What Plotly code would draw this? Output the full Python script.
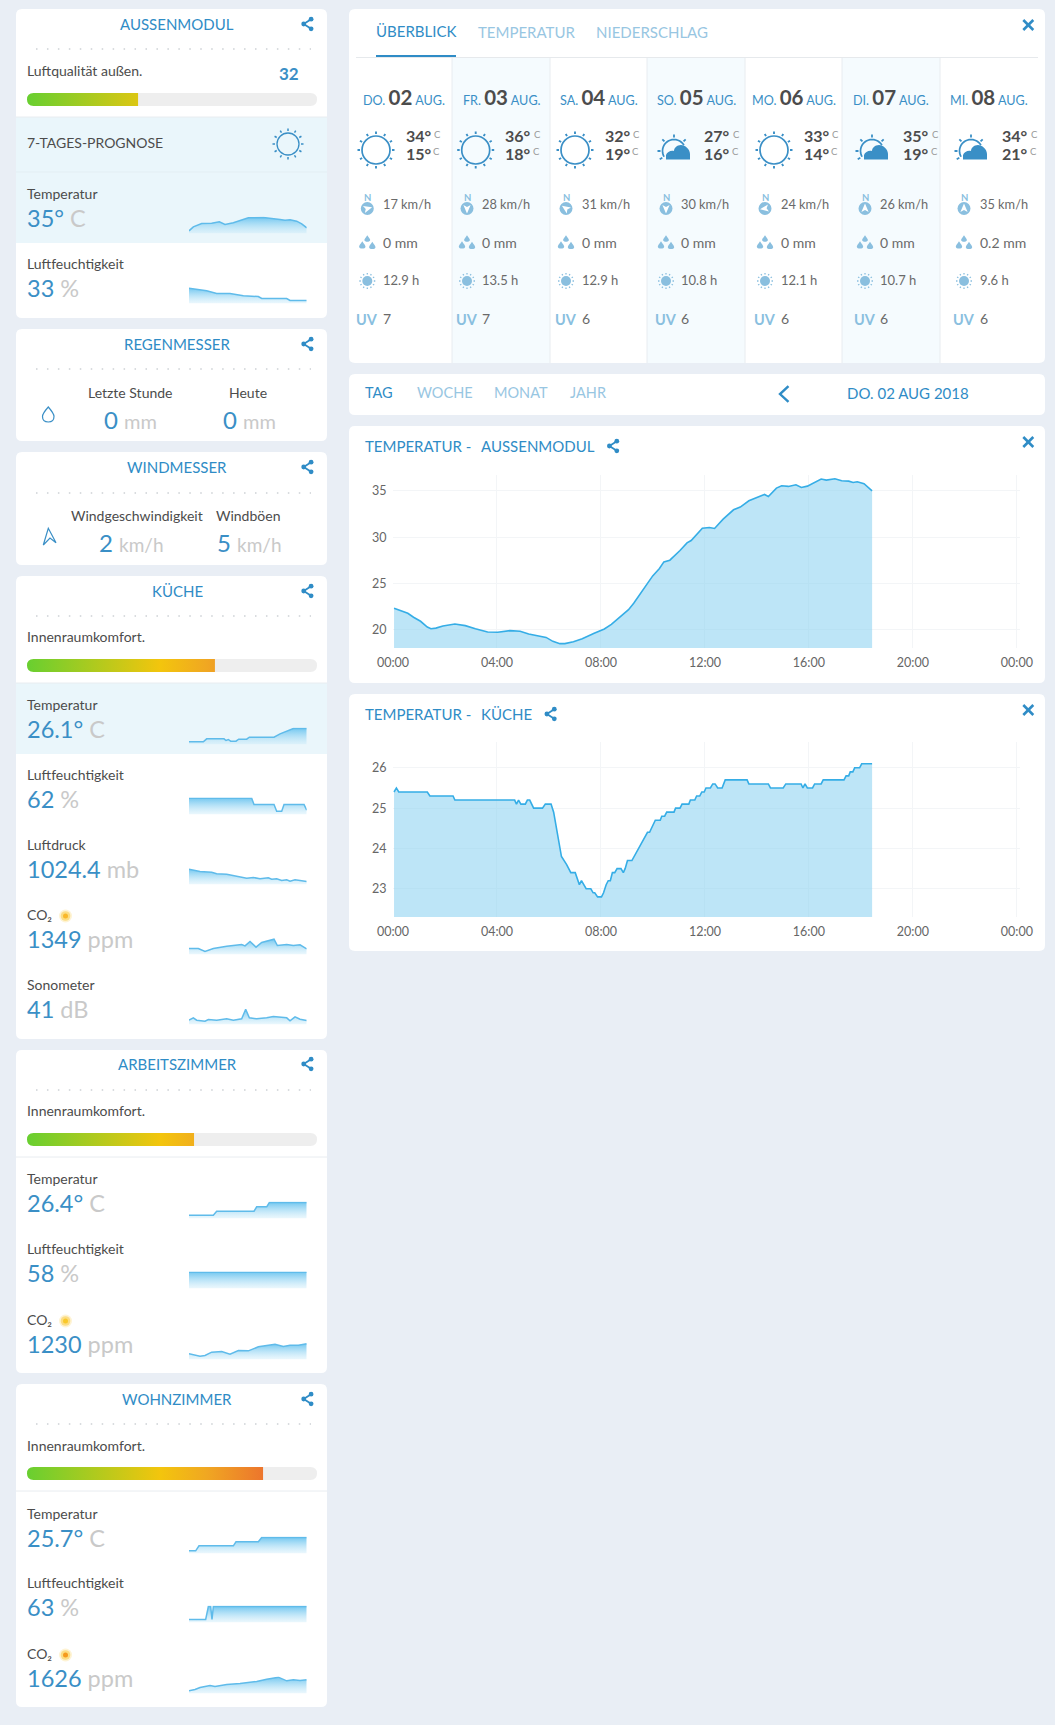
import math
import plotly.graph_objects as go

W, H = 1055, 1725
FONT = "Lato"

BG = "#e9eef5"
CARD = "#ffffff"
HILITE = "#eaf6fb"
ALT_COL = "#f5fbfe"
BLUE = "#3a8fc6"
BLUE_DARK = "#2f8cc6"
BLUE_SOFT = "#98c6e2"
ICON = "#8abfdf"
GREY = "#c9c9c9"
LABEL = "#4c4c4c"
TEXT = "#6a6a6a"
SEP = "#e8ecf0"

# =========================
# Main chart data
# =========================

hour_ticks = [0, 4, 8, 12, 16, 20, 24]
hour_labels = ["00:00", "04:00", "08:00", "12:00", "16:00", "20:00", "00:00"]

outdoor_hours = [
    0.04, 0.26, 0.57, 0.79, 1.06, 1.32, 1.46, 1.65, 1.92, 2.38, 2.78, 3.17, 3.64, 4.03, 4.5, 4.89,
    5.22, 5.89, 6.15, 6.42, 6.61, 6.94, 7.28, 7.74, 8.13, 8.4, 8.73, 9.06, 9.26, 9.46, 9.72, 9.99,
    10.25, 10.42, 10.65, 11.04, 11.31, 11.47, 11.9, 12.17, 12.37, 12.7, 13.1, 13.36, 13.69, 13.89,
    14.29, 14.44, 14.75, 14.95, 15.21, 15.5, 15.71, 15.94, 16.47, 16.67, 17.0, 17.26, 17.53, 17.7,
    17.86, 18.12, 18.29, 18.43,
]
outdoor_temp = [
    22.34, 22.12, 21.8, 21.37, 20.94, 20.32, 20.14, 20.2, 20.43, 20.65, 20.47, 20.14, 19.78, 19.75,
    19.93, 19.86, 19.57, 19.2, 18.78, 18.53, 18.53, 18.74, 19.06, 19.64, 20.11, 20.61, 21.4, 22.19,
    22.88, 23.7, 24.75, 25.83, 26.62, 27.34, 27.52, 28.56, 29.39, 29.64, 30.97, 31.04, 30.94, 31.94,
    32.95, 33.24, 33.92, 34.17, 34.6, 34.39, 35.29, 35.54, 35.47, 35.65, 35.36, 35.5, 36.26, 36.15,
    36.29, 36.08, 36.04, 35.9, 35.97, 35.76, 35.36, 35.0,
]

kitchen_hours = [
    0.04, 0.13, 0.22, 1.32, 1.42, 2.31, 2.38, 4.68, 4.75, 4.83, 4.92, 5.09, 5.17, 5.26, 5.41, 5.75,
    5.86, 6.08, 6.18, 6.28, 6.38, 6.48, 6.68, 6.84, 7.01, 7.10, 7.17, 7.25, 7.43, 7.61, 7.70, 7.76,
    7.87, 8.02, 8.10, 8.20, 8.28, 8.36, 8.44, 8.53, 8.62, 8.77, 8.86, 8.93, 9.02, 9.19, 9.79, 9.87,
    10.09, 10.28, 10.34, 10.45, 10.53, 10.81, 10.87, 11.04, 11.12, 11.38, 11.44, 11.61, 11.68, 11.80,
    11.88, 11.97, 12.04, 12.21, 12.30, 12.39, 12.49, 12.66, 12.78, 13.62, 13.69, 14.44, 14.52, 15.01,
    15.11, 15.70, 15.77, 15.85, 15.94, 16.14, 16.22, 16.47, 16.55, 17.35, 17.43, 17.53, 17.59, 17.69,
    17.76, 17.95, 18.03, 18.43,
]
kitchen_temp = [
    25.4, 25.5, 25.4, 25.4, 25.3, 25.3, 25.2, 25.2, 25.1, 25.2, 25.1, 25.1, 25.2, 25.2, 25.0, 25.0,
    25.1, 25.1, 24.9, 24.5, 24.1, 23.8, 23.6, 23.4, 23.4, 23.2, 23.1, 23.2, 23.0, 23.0, 22.9, 22.9,
    22.8, 22.8, 22.9, 23.1, 23.2, 23.2, 23.4, 23.4, 23.5, 23.5, 23.4, 23.5, 23.7, 23.7, 24.4, 24.4,
    24.7, 24.7, 24.8, 24.8, 24.9, 24.9, 25.0, 25.0, 25.1, 25.1, 25.2, 25.2, 25.3, 25.3,
    25.4, 25.4, 25.5, 25.5, 25.6, 25.6, 25.5, 25.5, 25.7, 25.7, 25.6, 25.6, 25.5, 25.5,
    25.6, 25.6, 25.5, 25.6, 25.5, 25.5, 25.6, 25.6, 25.7, 25.7, 25.8, 25.8, 25.9, 25.9,
    26.0, 26.0, 26.1, 26.1,
]

# =========================
# Sparkline data (no scale in the picture: position and level inside each small box)
# =========================

out_temp_t = [0, 13, 38, 68, 91, 108, 133, 178, 223, 248, 273, 288, 303, 323, 338, 353]
out_temp_v = [8, 20, 30, 31, 35, 27, 32, 47, 48, 44, 42, 40, 41, 37, 29, 17]
out_hum_t = [0, 33, 53, 83, 123, 163, 208, 218, 293, 303, 353]
out_hum_v = [46, 41, 38, 30, 30, 23, 21, 15, 15, 9, 9]

kue_temp_t = [0, 43, 53, 105, 111, 118, 125, 141, 149, 173, 181, 255, 273, 293, 313, 353]
kue_temp_v = [8, 8, 17, 17, 12, 15, 10, 10, 16, 16, 22, 22, 32, 40, 48, 48]
kue_hum_t = [0, 188, 195, 255, 263, 278, 285, 345, 353]
kue_hum_v = [49, 49, 30, 30, 10, 10, 30, 30, 13]
kue_press_t = [0, 33, 68, 83, 113, 153, 173, 193, 213, 238, 248, 263, 278, 293, 303, 318, 333, 353]
kue_press_v = [46, 39, 37, 32, 31, 22, 19, 21, 17, 20, 16, 17, 12, 14, 10, 14, 11, 9]
kue_co2_t = [0, 28, 48, 73, 113, 158, 168, 183, 201, 218, 255, 265, 293, 313, 333, 353]
kue_co2_v = [18, 18, 9, 18, 25, 30, 26, 39, 22, 36, 46, 27, 30, 27, 29, 17]
kue_noise_t = [0, 13, 23, 48, 58, 83, 113, 133, 158, 170, 181, 203, 233, 253, 293, 303, 318, 333, 353]
kue_noise_v = [13, 20, 13, 10, 15, 13, 17, 13, 17, 46, 20, 17, 20, 24, 20, 11, 23, 16, 12]

arb_temp_t = [0, 73, 83, 195, 203, 233, 241, 353]
arb_temp_v = [10, 10, 22, 22, 35, 35, 48, 48]
arb_hum_t = [0, 353]
arb_hum_v = [49, 49]
arb_co2_t = [0, 33, 48, 68, 98, 123, 148, 178, 208, 258, 283, 303, 328, 353]
arb_co2_v = [17, 10, 12, 22, 24, 16, 27, 26, 38, 46, 39, 43, 43, 47]

woh_temp_t = [0, 20, 30, 133, 141, 208, 218, 353]
woh_temp_v = [8, 8, 23, 23, 35, 35, 48, 48]
woh_hum_t = [0, 50, 58, 65, 69, 73, 353]
woh_hum_v = [9, 9, 48, 48, 9, 48, 48]
woh_co2_t = [0, 18, 33, 63, 78, 113, 153, 203, 233, 268, 293, 313, 333, 353]
woh_co2_v = [8, 12, 18, 24, 21, 27, 30, 36, 43, 49, 38, 41, 39, 41]

# =========================
# Forecast data
# =========================

fc_day = ["DO.", "FR.", "SA.", "SO.", "MO.", "DI.", "MI."]
fc_date = ["02", "03", "04", "05", "06", "07", "08"]
fc_high = [34, 36, 32, 27, 33, 35, 34]
fc_low = [15, 18, 19, 16, 14, 19, 21]
fc_wind = [17, 28, 31, 30, 24, 26, 35]
fc_wind_dir = [75, 180, 305, 180, 262, 0, 0]
fc_rain = ["0", "0", "0", "0", "0", "0", "0.2"]
fc_sun = ["12.9", "13.5", "12.9", "10.8", "12.1", "10.7", "9.6"]
fc_uv = [7, 7, 6, 6, 6, 6, 6]
fc_cloudy = [False, False, False, True, False, True, True]

# comfort / air quality bars, in percent of the track
air_quality_pct = 38.3
kueche_comfort_pct = 64.8
arbeit_comfort_pct = 57.6
wohn_comfort_pct = 81.4

# =========================
# Helpers
# =========================

shapes = []
annotations = []
traces = []
axes = {}
axis_count = 0


def X(x):
    return x / W


def Y(y):
    return 1 - y / H


def svg(*tok):
    # pixel coordinates -> path string in paper coordinates
    out = []
    is_x = True
    for t in tok:
        if isinstance(t, str):
            out.append(t)
            is_x = True
        elif is_x:
            out.append(f"{X(t):.5f}")
            is_x = False
        else:
            out.append(f"{Y(t):.5f}")
            is_x = True
    return " ".join(out)


def add_path(d, fill=None, line=None, width=1, layer="below"):
    s = dict(type="path", xref="paper", yref="paper", path=d, layer=layer,
             line=dict(width=width if line else 0, color=line or "rgba(0,0,0,0)"))
    if fill:
        s["fillcolor"] = fill
    shapes.append(s)


def round_rect(x0, y0, x1, y1, r, fill):
    add_path(svg("M", x0 + r, y0, "L", x1 - r, y0, "Q", x1, y0, x1, y0 + r, "L", x1, y1 - r,
                 "Q", x1, y1, x1 - r, y1, "L", x0 + r, y1, "Q", x0, y1, x0, y1 - r,
                 "L", x0, y0 + r, "Q", x0, y0, x0 + r, y0, "Z"), fill=fill)


def rect(x0, y0, x1, y1, fill):
    shapes.append(dict(type="rect", xref="paper", yref="paper", layer="below",
                       x0=X(x0), x1=X(x1), y0=Y(y1), y1=Y(y0), fillcolor=fill, line=dict(width=0)))


def hline(x0, x1, y, color=SEP, width=1, dash=None, layer="below"):
    shapes.append(dict(type="line", xref="paper", yref="paper", layer=layer,
                       x0=X(x0), x1=X(x1), y0=Y(y), y1=Y(y),
                       line=dict(color=color, width=width, dash=dash or "solid")))


def vline(x, y0, y1, color=SEP, width=1):
    shapes.append(dict(type="line", xref="paper", yref="paper", layer="below",
                       x0=X(x), x1=X(x), y0=Y(y0), y1=Y(y1), line=dict(color=color, width=width)))


def circle(cx, cy, r, fill=None, line=None, width=1, layer="below"):
    shapes.append(dict(type="circle", xref="paper", yref="paper", layer=layer,
                       x0=X(cx - r), x1=X(cx + r), y0=Y(cy + r), y1=Y(cy - r),
                       fillcolor=fill or "rgba(0,0,0,0)",
                       line=dict(color=line or "rgba(0,0,0,0)", width=width if line else 0)))


def txt(x, y, s, size=14, color=LABEL, anchor="left"):
    annotations.append(dict(x=X(x), y=Y(y - 0.7), xref="paper", yref="paper", text=s, showarrow=False,
                            xanchor=anchor, yanchor="middle", borderpad=0, borderwidth=0,
                            font=dict(family=FONT, size=size, color=color)))


def share(cx, cy):
    add_path(svg("M", cx + 3.8, cy - 4.8, "L", cx - 3.6, cy, "L", cx + 3.8, cy + 4.8), line=BLUE_DARK, width=1.8)
    circle(cx + 3.8, cy - 4.8, 2.4, fill=BLUE_DARK)
    circle(cx - 3.6, cy, 2.4, fill=BLUE_DARK)
    circle(cx + 3.8, cy + 4.8, 2.4, fill=BLUE_DARK)


def close_x(cx, cy):
    add_path(svg("M", cx - 5, cy - 5, "L", cx + 5, cy + 5), line=BLUE_DARK, width=2.6)
    add_path(svg("M", cx + 5, cy - 5, "L", cx - 5, cy + 5), line=BLUE_DARK, width=2.6)


def rays(cx, cy, r0, r1, angles, color, width):
    tok = []
    for a in angles:
        c, s = math.cos(math.radians(a)), math.sin(math.radians(a))
        tok += ["M", cx + r0 * c, cy + r0 * s, "L", cx + r1 * c, cy + r1 * s]
    add_path(svg(*tok), line=color, width=width)


def sun_icon(cx, cy, r=14, width=1.7):
    circle(cx, cy, r, line=BLUE, width=width)
    rays(cx, cy, r + 2, r + 4.5, range(0, 360, 30), BLUE, width + 0.2)


def cloud_sun_icon(cx, cy):
    sx, sy = cx - 1, cy + 1
    tok = []
    for i, a in enumerate(range(150, 340, 10)):
        c, s = math.cos(math.radians(a)), math.sin(math.radians(a))
        tok += ["M" if i == 0 else "L", sx + 11.5 * c, sy + 11.5 * s]
    add_path(svg(*tok), line=BLUE, width=1.7)
    rays(sx, sy, 13.5, 16.5, [150, 180, 225, 270, 315], BLUE, 1.8)
    add_path(svg("M", cx - 9, cy + 9.5, "L", cx + 15, cy + 9.5, "L", cx + 15, cy + 4,
                 "C", cx + 15, cy - 1, cx + 10, cy - 5, cx + 6, cy - 5,
                 "C", cx + 2, cy - 5, cx - 1, cy - 2, cx - 1, cy + 1,
                 "C", cx - 4, cy, cx - 8, cy + 2, cx - 9, cy + 5, "Z"), fill=BLUE)


def wind_icon(cx, cy, deg):
    circle(cx, cy, 6.5, fill=ICON)
    txt(cx, cy - 10.5, "<b>N</b>", 9.5, ICON, "center")
    c, s = math.cos(math.radians(deg)), math.sin(math.radians(deg))
    tok = []
    for i, (px, py) in enumerate([(0, -5), (3.6, 3.5), (0, 1.6), (-3.6, 3.5)]):
        tok += ["M" if i == 0 else "L", cx + px * c - py * s, cy + px * s + py * c]
    add_path(svg(*tok, "Z"), fill="#ffffff")


def drop(cx, cy, r):
    add_path(svg("M", cx, cy - r * 1.5, "C", cx + r * 0.6, cy - r * 0.6, cx + r, cy - r * 0.2, cx + r, cy + r * 0.2,
                 "C", cx + r, cy + r, cx - r, cy + r, cx - r, cy + r * 0.2,
                 "C", cx - r, cy - r * 0.2, cx - r * 0.6, cy - r * 0.6, cx, cy - r * 1.5, "Z"), fill=ICON)


def rain_icon(cx, cy):
    drop(cx, cy - 3.5, 2.9)
    drop(cx - 5, cy + 3, 3.2)
    drop(cx + 5, cy + 3.5, 3.2)


def small_sun(cx, cy):
    circle(cx, cy, 5, fill=ICON)
    rays(cx, cy, 6.5, 8, range(0, 360, 30), ICON, 1.3)


def co2_glow(cx, cy, core):
    circle(cx, cy, 6.5, fill="rgba(250,200,60,0.22)")
    circle(cx, cy, 4.8, fill="rgba(250,200,50,0.5)")
    circle(cx, cy, 2.5, fill=core)


def new_axes(x0, x1, y0, y1, xrange, yrange, **kw):
    # x0..x1, y0..y1 are pixels on the page
    global axis_count
    axis_count += 1
    n = axis_count
    base = dict(fixedrange=True, showgrid=False, zeroline=False, showline=False, visible=False)
    ax = dict(base, domain=[X(x0), X(x1)], range=xrange, anchor=f"y{n}")
    ay = dict(base, domain=[Y(y1), Y(y0)], range=yrange, anchor=f"x{n}")
    ax.update(kw.get("xaxis", {}))
    ay.update(kw.get("yaxis", {}))
    axes[f"xaxis{n}"] = ax
    axes[f"yaxis{n}"] = ay
    return f"x{n}", f"y{n}"


def sparkline(bottom, t, v):
    xa, ya = new_axes(189, 306.7, bottom - 17, bottom, [0, 353], [0, 51])
    traces.append(go.Scatter(
        x=t, y=v, xaxis=xa, yaxis=ya, mode="lines", hoverinfo="skip", showlegend=False,
        line=dict(color="#5fbbea", width=1.5), fill="tozeroy",
        fillgradient=dict(type="vertical", colorscale=[[0, "rgba(190,230,248,0.3)"], [1, "#75c8f0"]]),
    ))


def level_bar(y0, pct):
    # grey track, coloured value, white corner masks for the rounded left end
    round_rect(27, y0, 317, y0 + 13, 6.5, "#eeeeee")
    xa, ya = new_axes(27, 317, y0, y0 + 13, [0, 100], [0, 1])
    traces.append(go.Scatter(
        x=[0, pct], y=[1, 1], xaxis=xa, yaxis=ya, mode="none", hoverinfo="skip", showlegend=False,
        fill="tozeroy",
        fillgradient=dict(type="horizontal", start=0, stop=100, colorscale=[
            [0, "#68cf30"], [0.46, "#f3c50d"], [0.62, "#f0a722"], [0.82, "#ec742d"], [1, "#e54e2a"]]),
    ))
    add_path(svg("M", 27, y0, "L", 33.5, y0, "Q", 27, y0, 27, y0 + 6.5, "Z"), fill=CARD, layer="above")
    add_path(svg("M", 27, y0 + 13, "L", 33.5, y0 + 13, "Q", 27, y0 + 13, 27, y0 + 6.5, "Z"), fill=CARD, layer="above")


def card_head(y0, y1, title, title_y, dots_y):
    round_rect(16, y0, 327, y1, 6, CARD)
    txt(177, title_y, title, 15, BLUE_DARK, "center")
    share(307.3, title_y - 1)
    hline(36, 311, dots_y, "#d9dcdf", 2, "1.5px,9.45px")


def reading(label, value, unit, y, spark_t, spark_v):
    txt(27, y, label, 14, LABEL)
    txt(27, y + 25, f"{value} <span style='color:{GREY}'>{unit}</span>", 23.5, BLUE)
    sparkline(y + 39.5, spark_t, spark_v)


# =========================
# Left column
# =========================

# Aussenmodul
card_head(9, 318, "AUSSENMODUL", 25, 49)
txt(27, 71, "Luftqualität außen.", 14, LABEL)
txt(289, 74, "<b>32</b>", 17, BLUE, "center")
level_bar(93, air_quality_pct)
rect(16, 117, 327, 243, HILITE)
hline(16, 327, 117)
hline(16, 327, 172, "#e3eef3")
txt(27, 143, "7-TAGES-PROGNOSE", 14, LABEL)
sun_icon(288, 144, 11, 1.3)
reading("Temperatur", "35°", "C", 194, out_temp_t, out_temp_v)
reading("Luftfeuchtigkeit", "33", "%", 264, out_hum_t, out_hum_v)

# Regenmesser
card_head(329, 441, "REGENMESSER", 345, 369)
add_path(svg("M", 48.3, 407, "C", 48.3, 407, 42.5, 413.5, 42.5, 416.5, "C", 42.5, 420, 45, 422, 48.3, 422,
             "C", 51.6, 422, 54, 420, 54, 416.5, "C", 54, 413.5, 48.3, 407, 48.3, 407, "Z"), line=BLUE, width=1.2)
txt(130, 393, "Letzte Stunde", 14, LABEL, "center")
txt(248, 393, "Heute", 14, LABEL, "center")
txt(130, 420, f"0 <span style='color:{GREY};font-size:20px'>mm</span>", 24, BLUE, "center")
txt(249, 420, f"0 <span style='color:{GREY};font-size:20px'>mm</span>", 24, BLUE, "center")

# Windmesser
card_head(452, 565, "WINDMESSER", 468, 493)
add_path(svg("M", 48.3, 528.3, "L", 56, 542.7, "L", 50, 538, "L", 43.3, 545, "Z"), line=BLUE, width=1.2)
txt(137, 516, "Windgeschwindigkeit", 14, LABEL, "center")
txt(248, 516, "Windböen", 14, LABEL, "center")
txt(131, 543, f"2 <span style='color:{GREY};font-size:19px'>km/h</span>", 24, BLUE, "center")
txt(249, 543, f"5 <span style='color:{GREY};font-size:19px'>km/h</span>", 24, BLUE, "center")

# Küche
card_head(576, 1039, "KÜCHE", 592, 616)
txt(27, 637, "Innenraumkomfort.", 14, LABEL)
level_bar(659, kueche_comfort_pct)
rect(16, 683, 327, 754, HILITE)
hline(16, 327, 683)
reading("Temperatur", "26.1°", "C", 705, kue_temp_t, kue_temp_v)
reading("Luftfeuchtigkeit", "62", "%", 775, kue_hum_t, kue_hum_v)
reading("Luftdruck", "1024.4", "mb", 845, kue_press_t, kue_press_v)
reading("CO₂", "1349", "ppm", 915, kue_co2_t, kue_co2_v)
co2_glow(65.5, 916, "#f9b82a")
reading("Sonometer", "41", "dB", 985, kue_noise_t, kue_noise_v)

# Arbeitszimmer
card_head(1050, 1373, "ARBEITSZIMMER", 1065, 1090)
txt(27, 1111, "Innenraumkomfort.", 14, LABEL)
level_bar(1133, arbeit_comfort_pct)
hline(16, 327, 1157)
reading("Temperatur", "26.4°", "C", 1179, arb_temp_t, arb_temp_v)
reading("Luftfeuchtigkeit", "58", "%", 1249, arb_hum_t, arb_hum_v)
reading("CO₂", "1230", "ppm", 1320, arb_co2_t, arb_co2_v)
co2_glow(65.5, 1321, "#f9c82a")

# Wohnzimmer
card_head(1384, 1707, "WOHNZIMMER", 1400, 1424)
txt(27, 1446, "Innenraumkomfort.", 14, LABEL)
level_bar(1467, wohn_comfort_pct)
hline(16, 327, 1491)
reading("Temperatur", "25.7°", "C", 1514, woh_temp_t, woh_temp_v)
reading("Luftfeuchtigkeit", "63", "%", 1583, woh_hum_t, woh_hum_v)
reading("CO₂", "1626", "ppm", 1654, woh_co2_t, woh_co2_v)
co2_glow(65.5, 1655, "#f59a1e")

# =========================
# Forecast card
# =========================

round_rect(349, 9, 1045, 363, 6, CARD)
for x0, x1 in [(452, 550), (647, 745), (842, 940)]:
    rect(x0, 58, x1, 363, ALT_COL)
for x in [452, 550, 647, 745, 842, 940]:
    vline(x, 58, 363)
hline(356, 1038, 57.5, "#e6e9ec", 1.2)
hline(376, 456, 56, BLUE_DARK, 2.2)
txt(376, 32, "ÜBERBLICK", 15, BLUE_DARK)
txt(478, 33, "TEMPERATUR", 15, BLUE_SOFT)
txt(596, 33, "NIEDERSCHLAG", 15, BLUE_SOFT)
close_x(1028.3, 25)

date_x = [403.5, 501.5, 599, 696, 794, 891, 989]
sun_x = [376, 475.7, 575, 675, 774, 873, 972]
temp_x = [419, 518, 617.7, 717, 817, 916, 1015]
unit_x = [437.7, 537, 636, 736, 835, 935, 1034]
icon_x = [367.3, 467, 566, 666, 765, 865, 964]
value_x = [383, 482, 581.7, 681, 781, 880, 979.5]

for i in range(7):
    txt(date_x[i], 98,
        f"{fc_day[i]} <span style='font-size:20.5px;color:{LABEL}'><b>{fc_date[i]}</b></span> AUG.",
        12.6, BLUE, "center")
    if fc_cloudy[i]:
        cloud_sun_icon(sun_x[i], 150)
    else:
        sun_icon(sun_x[i], 150)
    txt(temp_x[i], 136.5, f"<b>{fc_high[i]}°</b>", 16, LABEL, "center")
    txt(temp_x[i], 154, f"<b>{fc_low[i]}°</b>", 16, LABEL, "center")
    txt(unit_x[i], 135.5, "C", 9.5, "#999999", "center")
    txt(unit_x[i] - 1, 152.5, "C", 9.5, "#999999", "center")
    wind_icon(icon_x[i], 208.5, fc_wind_dir[i])
    txt(value_x[i], 204.5, f"{fc_wind[i]} km/h", 12.8, TEXT)
    rain_icon(icon_x[i], 243)
    txt(value_x[i], 243, f"{fc_rain[i]} mm", 14, TEXT)
    small_sun(icon_x[i], 281)
    txt(value_x[i], 281, f"{fc_sun[i]} h", 13, TEXT)
    txt(icon_x[i], 320, "<b>UV</b>", 14.5, ICON, "center")
    txt(value_x[i], 319, f"{fc_uv[i]}", 14, TEXT)

# =========================
# Date selector card
# =========================

round_rect(349, 374, 1045, 415, 6, CARD)
txt(365, 393.5, "TAG", 14.5, BLUE_DARK)
txt(417, 393.5, "WOCHE", 14.5, BLUE_SOFT)
txt(494, 393.5, "MONAT", 14.5, BLUE_SOFT)
txt(570, 393.5, "JAHR", 14.5, BLUE_SOFT)
add_path(svg("M", 788.5, 386, "L", 780, 394, "L", 788.5, 402), line=BLUE_DARK, width=2.4)
txt(908, 394, "DO. 02 AUG 2018", 15, BLUE_DARK, "center")

# =========================
# Temperature charts
# =========================


def temp_chart(y0, y1, station, share_x, plot_top, plot_bottom, yrange, yticks, hours, temps):
    round_rect(349, y0, 1045, y1, 6, CARD)
    txt(365, y0 + 21, "TEMPERATUR -", 15, BLUE_DARK)
    txt(481, y0 + 21, station, 15, BLUE_DARK)
    share(share_x, y0 + 20)
    close_x(1028.3, y0 + 16)
    grid = dict(visible=True, showgrid=True, gridcolor="#f3f5f7", gridwidth=1, ticks="outside",
                tickcolor="rgba(0,0,0,0)", tickfont=dict(family=FONT, size=12.5, color="#666666"))
    xa, ya = new_axes(
        393, 1020, plot_top, plot_bottom, [0, 24.12], yrange,
        xaxis=dict(grid, tickmode="array", tickvals=hour_ticks, ticktext=hour_labels, ticklen=3),
        yaxis=dict(grid, tickmode="array", tickvals=yticks, ticklen=3),
    )
    traces.append(go.Scatter(
        x=hours, y=temps, xaxis=xa, yaxis=ya, mode="lines", hoverinfo="skip", showlegend=False,
        line=dict(color="#35ade6", width=1.6), fill="tozeroy", fillcolor="rgba(135,207,240,0.55)",
    ))


temp_chart(426, 683, "AUSSENMODUL", 613, 475, 648, [18.06, 36.7], [20, 25, 30, 35], outdoor_hours, outdoor_temp)
temp_chart(694, 951, "KÜCHE", 550.5, 742, 917, [22.3, 26.64], [23, 24, 25, 26], kitchen_hours, kitchen_temp)

# =========================
# Figure
# =========================

fig = go.Figure(data=traces)
fig.update_layout(
    width=W,
    height=H,
    margin=dict(l=0, r=0, t=0, b=0, autoexpand=False),
    paper_bgcolor=BG,
    plot_bgcolor="rgba(0,0,0,0)",
    showlegend=False,
    shapes=shapes,
    annotations=annotations,
    font=dict(family=FONT),
    **axes,
)

fig.write_html(
    "out.html",
    config={"displayModeBar": False},
    post_script="document.body.style.margin='0';document.documentElement.style.overflow='hidden';",
)
